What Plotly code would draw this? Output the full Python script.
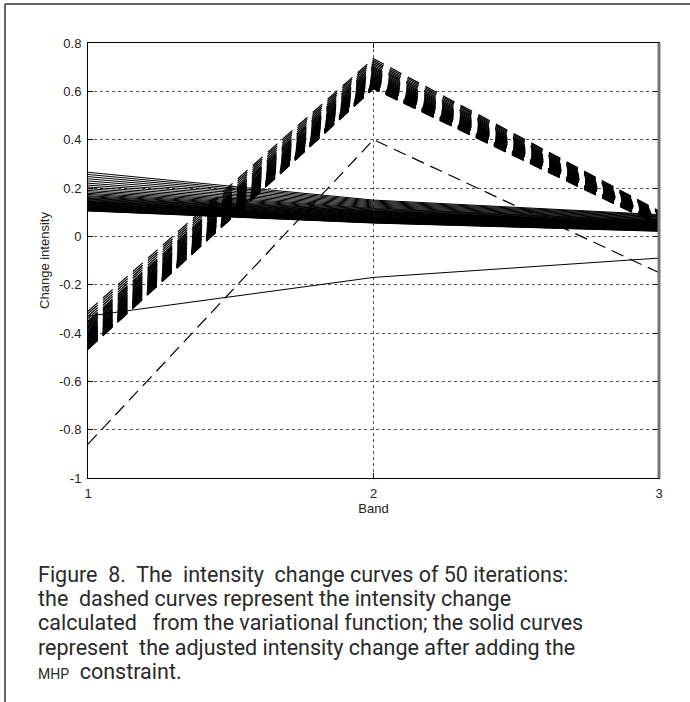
import plotly.graph_objects as go

# ---------------- data ----------------
bands = [1, 2, 3]
band_ticks = ["1", "2", "3"]
y_tick_vals = [-1, -0.8, -0.6, -0.4, -0.2, 0, 0.2, 0.4, 0.6, 0.8]
y_tick_text = ["-1", "-0.8", "-0.6", "-0.4", "-0.2", "0", "0.2", "0.4", "0.6", "0.8"]

# dashed curves: intensity change from the variational function (50 iterations)
dashed_band1 = [-0.86, -0.31, -0.32, -0.33, -0.34, -0.35, -0.355, -0.36, -0.365, -0.37,
                -0.375, -0.38, -0.385, -0.39, -0.394, -0.398, -0.402, -0.406, -0.41, -0.413,
                -0.416, -0.419, -0.422, -0.425, -0.428, -0.431, -0.434, -0.436, -0.438, -0.44,
                -0.442, -0.444, -0.446, -0.448, -0.45, -0.452, -0.454, -0.455, -0.456, -0.457,
                -0.458, -0.459, -0.46, -0.461, -0.462, -0.463, -0.464, -0.465, -0.466, -0.467]
dashed_band2 = [0.40, 0.735, 0.728, 0.721, 0.714, 0.708, 0.702, 0.697, 0.692, 0.687,
                0.682, 0.678, 0.674, 0.670, 0.666, 0.663, 0.660, 0.657, 0.654, 0.651,
                0.648, 0.646, 0.644, 0.642, 0.640, 0.638, 0.636, 0.634, 0.632, 0.631,
                0.630, 0.629, 0.628, 0.627, 0.626, 0.625, 0.624, 0.623, 0.622, 0.621,
                0.620, 0.619, 0.618, 0.617, 0.616, 0.615, 0.614, 0.613, 0.612, 0.611]
dashed_band3 = [-0.15, 0.105, 0.103, 0.101, 0.099, 0.097, 0.095, 0.093, 0.091, 0.089,
                0.087, 0.085, 0.083, 0.082, 0.081, 0.080, 0.079, 0.078, 0.077, 0.076,
                0.075, 0.074, 0.073, 0.072, 0.071, 0.070, 0.069, 0.068, 0.067, 0.066,
                0.065, 0.064, 0.063, 0.062, 0.061, 0.060, 0.059, 0.058, 0.057, 0.056,
                0.055, 0.054, 0.053, 0.052, 0.051, 0.050, 0.049, 0.048, 0.047, 0.046]

# solid curves: adjusted intensity change after adding the MHP constraint
solid_band1 = [-0.33, 0.265, 0.256, 0.247, 0.238, 0.229, 0.220, 0.212, 0.204, 0.197,
               0.190, 0.184, 0.178, 0.173, 0.168, 0.164, 0.160, 0.157, 0.154, 0.151,
               0.148, 0.145, 0.143, 0.141, 0.139, 0.137, 0.135, 0.133, 0.131, 0.129,
               0.127, 0.125, 0.123, 0.121, 0.120, 0.119, 0.118, 0.117, 0.116, 0.115,
               0.114, 0.113, 0.112, 0.111, 0.110, 0.109, 0.108, 0.107, 0.106, 0.105]
solid_band2 = [-0.17, 0.150, 0.146, 0.142, 0.138, 0.134, 0.130, 0.126, 0.122, 0.118,
               0.115, 0.112, 0.109, 0.106, 0.104, 0.102, 0.100, 0.098, 0.096, 0.094,
               0.092, 0.090, 0.088, 0.086, 0.084, 0.082, 0.080, 0.078, 0.076, 0.075,
               0.074, 0.073, 0.072, 0.071, 0.070, 0.069, 0.068, 0.067, 0.066, 0.065,
               0.064, 0.063, 0.062, 0.061, 0.060, 0.059, 0.058, 0.057, 0.056, 0.055]
solid_band3 = [-0.09, 0.090, 0.087, 0.084, 0.081, 0.078, 0.075, 0.072, 0.069, 0.066,
               0.064, 0.062, 0.060, 0.058, 0.056, 0.055, 0.054, 0.053, 0.052, 0.051,
               0.050, 0.049, 0.048, 0.047, 0.046, 0.045, 0.044, 0.043, 0.042, 0.041,
               0.040, 0.039, 0.038, 0.037, 0.036, 0.035, 0.034, 0.033, 0.032, 0.031,
               0.030, 0.029, 0.028, 0.027, 0.026, 0.025, 0.024, 0.023, 0.022, 0.021]

caption_lines = [
    "Figure  8.  The  intensity  change curves of 50 iterations:",
    "the  dashed curves represent the intensity change",
    "calculated   from the variational function; the solid curves",
    "represent  the adjusted intensity change after adding the",
    "<span style='font-size:14px'>MHP</span>  constraint.",
]

# ---------------- figure ----------------
W, H = 690, 702
L, R, T, B = 88, 31, 43, 224
pw, ph = W - L - R, H - T - B


def px_x(px):
    return (px - L) / pw


def px_y(py):
    return (H - B - py) / ph


fig = go.Figure()

for a, b, c in zip(dashed_band1, dashed_band2, dashed_band3):
    fig.add_trace(go.Scatter(x=bands, y=[a, b, c], mode="lines",
                             line=dict(color="black", width=1.2, dash="13px,7px"),
                             showlegend=False, hoverinfo="skip"))
for a, b, c in zip(solid_band1, solid_band2, solid_band3):
    fig.add_trace(go.Scatter(x=bands, y=[a, b, c], mode="lines",
                             line=dict(color="black", width=1.0),
                             showlegend=False, hoverinfo="skip"))

axis_font = dict(family="Liberation Sans, Arial, sans-serif", size=13, color="#222")

fig.update_xaxes(range=[1, 3], tickvals=bands, ticktext=band_ticks,
                 showgrid=True, gridcolor="#555", griddash="dot", gridwidth=1,
                 zeroline=False, showline=True, linecolor="black", linewidth=1,
                 mirror="ticks", ticks="inside", ticklen=5, tickcolor="black",
                 tickfont=axis_font, ticklabelstandoff=3,
                 title=dict(text="Band", font=axis_font, standoff=0))
fig.update_yaxes(range=[-1, 0.8], tickvals=y_tick_vals, ticktext=y_tick_text,
                 showgrid=True, gridcolor="#555", griddash="dot", gridwidth=1,
                 zeroline=False, showline=True, linecolor="black", linewidth=1,
                 mirror="ticks", ticks="inside", ticklen=5, tickcolor="black",
                 tickfont=axis_font, ticklabelstandoff=3,
                 title=dict(text="Change intensity", font=axis_font, standoff=6))

shapes = [
    # page frame (top and left edges)
    dict(type="line", xref="paper", yref="paper", x0=px_x(5), x1=px_x(W + 5),
         y0=px_y(4), y1=px_y(4), line=dict(color="#333", width=1.5)),
    dict(type="line", xref="paper", yref="paper", x0=px_x(5), x1=px_x(5),
         y0=px_y(4), y1=px_y(H + 5), line=dict(color="#333", width=1.5)),
    # heavier right border of the plot box
    dict(type="line", xref="paper", yref="paper", x0=1, x1=1, y0=0, y1=1,
         line=dict(color="#777", width=3)),
]

annotations = []
line_y = [574, 598, 622, 647, 671]
for text, yy in zip(caption_lines, line_y):
    annotations.append(dict(text=text, xref="paper", yref="paper",
                            x=px_x(36), y=px_y(yy), xanchor="left", yanchor="middle",
                            showarrow=False, align="left",
                            font=dict(family="Roboto, sans-serif", size=21.5, color="#2a2a2a")))

fig.update_layout(width=W, height=H, margin=dict(l=L, r=R, t=T, b=B, autoexpand=False),
                  paper_bgcolor="white", plot_bgcolor="white",
                  shapes=shapes, annotations=annotations, showlegend=False)

fig.write_html("out.html", config={"displayModeBar": False},
               post_script="document.body.style.margin='0';document.body.style.overflow='hidden';")
